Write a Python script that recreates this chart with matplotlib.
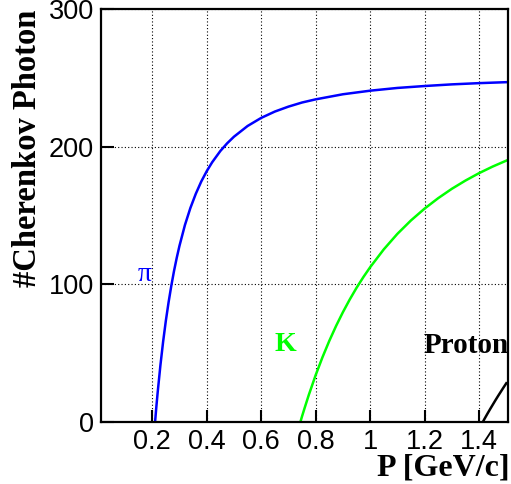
import numpy as np
import matplotlib
matplotlib.use("Agg")
from matplotlib import pyplot as plt

# values (P in GeV/c, number of photons)
p_pion = [0.2105, 0.215, 0.22, 0.23, 0.24, 0.25, 0.26, 0.27, 0.28, 0.29, 0.30,
          0.32, 0.34, 0.36, 0.38, 0.40, 0.42, 0.45, 0.475, 0.50, 0.55,
          0.60, 0.65, 0.70, 0.75, 0.80, 0.90, 1.00, 1.10, 1.20, 1.30, 1.40, 1.50]
n_pion = [0.0, 10.6, 21.4, 41.0, 58.3, 73.5, 86.9, 98.9, 109.7, 119.3, 128.0,
          143.1, 155.5, 165.9, 174.8, 182.3, 188.8, 197.0, 202.6, 207.4, 215.2,
          221.1, 225.7, 229.3, 232.3, 234.6, 238.3, 240.9, 242.9, 244.3, 245.5, 246.4, 247.1]

p_kaon = [0.7443, 0.75, 0.76, 0.775, 0.80, 0.825, 0.85, 0.875, 0.90, 0.925, 0.95,
          0.975, 1.00, 1.05, 1.10, 1.15, 1.20, 1.25, 1.30, 1.35, 1.40, 1.45, 1.50]
n_kaon = [0.0, 3.9, 10.3, 19.6, 33.9, 46.9, 58.8, 69.7, 79.7, 88.9, 97.4,
          105.2, 112.4, 125.4, 136.7, 146.5, 155.1, 162.7, 169.5, 175.5, 180.9, 185.7, 190.0]

p_proton = [1.4144, 1.42, 1.43, 1.44, 1.45, 1.46, 1.47, 1.48, 1.49, 1.50]
n_proton = [0.0, 2.1, 5.6, 9.0, 12.3, 15.6, 18.8, 21.9, 25.0, 28.0]

xticks = [0.2, 0.4, 0.6, 0.8, 1.0, 1.2, 1.4]
xticklabels = ["0.2", "0.4", "0.6", "0.8", "1", "1.2", "1.4"]
yticks = [0, 100, 200, 300]

fig = plt.figure(figsize=(5.11, 4.84), dpi=100)
ax = fig.add_axes([0.1977, 0.1287, 0.7958, 0.8517])

ax.plot(p_pion, n_pion, color="#0000ff", lw=1.8)
ax.plot(p_kaon, n_kaon, color="#00ff00", lw=1.8)
ax.plot(p_proton, n_proton, color="black", lw=1.8)

ax.set_xlim(0.012, 1.505)
ax.set_ylim(0, 300)
ax.set_xticks(xticks)
ax.set_xticklabels(xticklabels)
ax.set_yticks(yticks)
ax.grid(True, color="black", linestyle=(0, (1, 2)), linewidth=0.8)
ax.tick_params(direction="in", length=9, width=1.5, labelsize=19.5, pad=5,
               top=False, right=False)
for lab in ax.get_xticklabels() + ax.get_yticklabels():
    lab.set_family("Liberation Sans")
for sp in ax.spines.values():
    sp.set_linewidth(1.6)

ax.text(0.173, 107, "π", color="#0000ff", fontsize=20, family="Liberation Serif",
        ha="center", va="center")
ax.text(0.687, 56.5, "K", color="#00ff00", fontsize=20, family="Liberation Serif",
        weight="bold", ha="center", va="center")
ax.text(1.198, 50, "Proton", color="black", fontsize=21, family="Liberation Serif",
        weight="bold", ha="left", va="baseline")

fig.text(510 / 511, 9 / 484, "P [GeV/c]", fontsize=23, family="Liberation Serif",
         weight="bold", ha="right", va="baseline")
fig.text(28 / 511, 1 - 10 / 484, "#Cherenkov Photon", fontsize=23.5,
         family="Liberation Serif", weight="bold", rotation=90, ha="center", va="top")

fig.savefig("out.png", dpi=100)
